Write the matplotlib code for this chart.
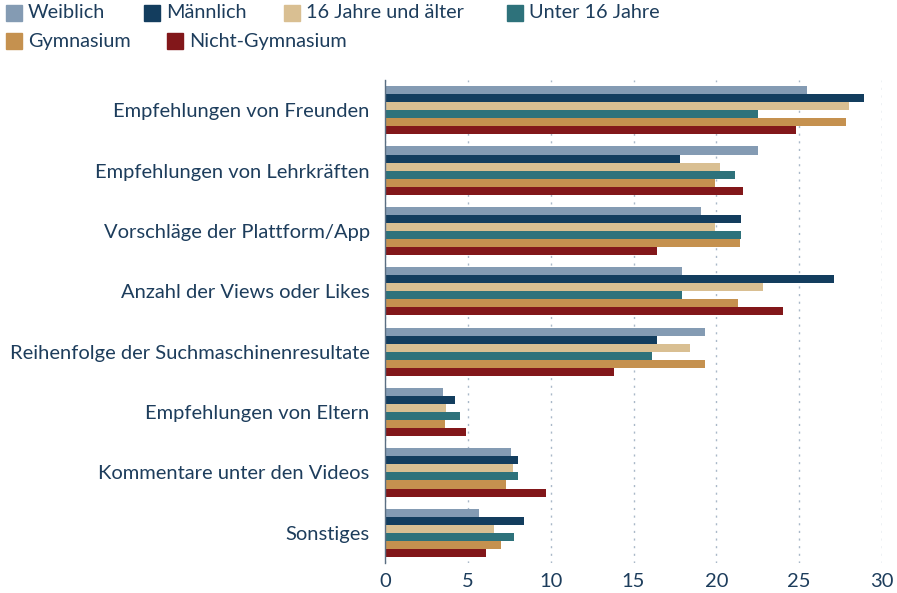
import matplotlib.pyplot as plt
from matplotlib.patches import Rectangle
import numpy as np

plt.rcParams['font.family'] = ['Lato', 'DejaVu Sans']

categories = [
    "Empfehlungen von Freunden",
    "Empfehlungen von Lehrkräften",
    "Vorschläge der Plattform/App",
    "Anzahl der Views oder Likes",
    "Reihenfolge der Suchmaschinenresultate",
    "Empfehlungen von Eltern",
    "Kommentare unter den Videos",
    "Sonstiges",
]
series = ["Weiblich", "Männlich", "16 Jahre und älter", "Unter 16 Jahre",
          "Gymnasium", "Nicht-Gymnasium"]
weiblich = [25.5, 22.5, 19.1, 17.9, 19.3, 3.5, 7.6, 5.7]
maennlich = [28.9, 17.8, 21.5, 27.1, 16.4, 4.2, 8.0, 8.4]
ab16 = [28.0, 20.2, 19.9, 22.8, 18.4, 3.7, 7.7, 6.6]
unter16 = [22.5, 21.1, 21.5, 17.9, 16.1, 4.5, 8.0, 7.8]
gymnasium = [27.8, 19.9, 21.4, 21.3, 19.3, 3.6, 7.3, 7.0]
nicht_gym = [24.8, 21.6, 16.4, 24.0, 13.8, 4.9, 9.7, 6.1]
values = [weiblich, maennlich, ab16, unter16, gymnasium, nicht_gym]
colors = ["#849bb3", "#133d5e", "#d9bf92", "#2e727b", "#c5914f", "#82171a"]
text_color = "#1d3d5c"

fig = plt.figure(figsize=(8.97, 5.93), dpi=100)
ax = fig.add_axes([0.4292, 0.0506, 0.5541, 0.8144])

y = np.arange(len(categories))
h = 0.8 / len(series)
for i, (vals, c) in enumerate(zip(values, colors)):
    ax.barh(y - 0.4 + h * (i + 0.5), vals, height=h, color=c, zorder=2)

ax.set_xlim(0, 30)
ax.set_ylim(len(categories) - 0.5, -0.5)
ax.set_xticks(range(0, 31, 5))
ax.set_yticks(y)
ax.set_yticklabels(categories)
ax.tick_params(axis='both', length=0, labelsize=14.5, colors=text_color)
ax.tick_params(axis='y', pad=11)
ax.tick_params(axis='x', pad=7)
ax.grid(axis='x', color='#a9b8c8', linestyle=(0, (1.5, 4)), linewidth=1.0, zorder=0)
for s in ['top', 'right', 'bottom']:
    ax.spines[s].set_visible(False)
ax.spines['left'].set_color('#5a6e82')
ax.spines['left'].set_linewidth(1.0)

# legend laid out as flowing rows
W, H = 897, 593
legend_pos = [(6, 13), (144, 13), (284, 13), (507, 13), (6, 41), (167, 41)]
for (lx, ly), name, c in zip(legend_pos, series, colors):
    fig.add_artist(Rectangle((lx / W, 1 - (ly + 8) / H), 16 / W, 16 / H,
                             transform=fig.transFigure, color=c))
    fig.text((lx + 22) / W, 1 - ly / H, name, color=text_color, fontsize=14.3,
             va='center', ha='left')

fig.savefig("out.png", dpi=100)
